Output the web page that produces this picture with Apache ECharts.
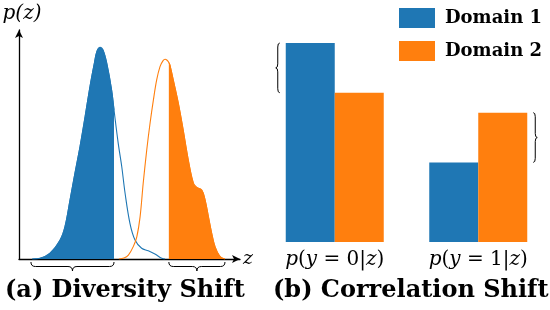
<!DOCTYPE html>
<html>
<head>
<meta charset="utf-8">
<script src="https://cdn.jsdelivr.net/npm/echarts@6/dist/echarts.min.js"></script>
<style>html,body{margin:0;padding:0;background:#fff}#c{width:550px;height:310px}</style>
</head>
<body>
<div id="c"></div>
<script>
// ---- Panel (a): densities p(z) ----
const domain1Z = [0.60, 0.95, 1.40, 1.86, 2.08, 2.31, 2.53, 2.76, 2.99, 3.21, 3.41, 3.53, 3.67, 3.80, 3.97, 4.19, 4.30, 4.49, 4.65, 4.80, 5.02, 5.25, 5.55, 5.85, 6.15, 6.46, 6.61];
const domain1P = [0, 0.003, 0.025, 0.083, 0.141, 0.258, 0.374, 0.490, 0.621, 0.752, 0.855, 0.908, 0.924, 0.913, 0.855, 0.738, 0.650, 0.505, 0.403, 0.287, 0.156, 0.083, 0.047, 0.036, 0.022, 0.003, 0];
const domain1CutZ = 4.30;   // blue shaded for z <= cut

const domain2Z = [4.52, 4.75, 4.95, 5.17, 5.33, 5.48, 5.62, 5.78, 5.93, 6.08, 6.23, 6.38, 6.52, 6.61, 6.70, 6.78, 6.83, 6.98, 7.21, 7.43, 7.66, 7.89, 8.04, 8.27, 8.42, 8.57, 8.72, 8.87, 9.10, 9.32];
const domain2P = [0, 0.004, 0.017, 0.054, 0.097, 0.185, 0.331, 0.476, 0.593, 0.694, 0.782, 0.840, 0.866, 0.872, 0.868, 0.858, 0.847, 0.782, 0.680, 0.563, 0.432, 0.331, 0.313, 0.301, 0.258, 0.185, 0.112, 0.054, 0.010, 0];
const domain2CutZ = 6.78;   // orange shaded for z >= cut

// ---- Panel (b): p(y|z) bars ----
const categories = ['p(y = 0|z)', 'p(y = 1|z)'];
const domain1Bars = [1.0, 0.40];
const domain2Bars = [0.75, 0.65];

const seriesNames = ['Domain 1', 'Domain 2'];
const captions = ['(a) Diversity Shift', '(b) Correlation Shift'];

const BLUE = '#1f77b4', ORANGE = '#ff7f0e';
const BAR_W = 49;

const zip = (xs, ys) => xs.map((x, i) => [x, ys[i]]);
const d1 = zip(domain1Z, domain1P);
const d2 = zip(domain2Z, domain2P);
const d1Fill = d1.filter(p => p[0] <= domain1CutZ);
const d2Fill = d2.filter(p => p[0] >= domain2CutZ);
const braceRanges = [[domain1Z[0] - 0.06, domain1CutZ, 0], [domain2CutZ, domain2Z[domain2Z.length - 1], 0]];
const barBraces = categories.map((c, i) => [i, domain1Bars[i], domain2Bars[i]]);

function hBrace(x1, x2, y0) {
  const h = 9, q = 4.5, m = (x1 + x2) / 2, yl = y0 + h / 2, yt = y0 + h;
  return `M${x1},${y0} Q${x1},${yl} ${x1 + q},${yl} L${m - q},${yl} Q${m},${yl} ${m},${yt} Q${m},${yl} ${m + q},${yl} L${x2 - q},${yl} Q${x2},${yl} ${x2},${y0}`;
}
function vBrace(xe, y1, y2, dir) {
  const w = 4 * dir, q = 4, xm = xe + w / 2, xt = xe + w, ym = (y1 + y2) / 2;
  return `M${xe},${y1} Q${xm},${y1} ${xm},${y1 + q} L${xm},${ym - q} Q${xm},${ym} ${xt},${ym} Q${xm},${ym} ${xm},${ym + q} L${xm},${y2 - q} Q${xm},${y2} ${xe},${y2}`;
}

function mathRich(s) {
  let out = '';
  for (const ch of s) {
    if (/[a-z]/.test(ch)) out += '{i|' + ch + '}';
    else out += '{n|' + ch + '}';
  }
  return out;
}

const serif = 'DejaVu Serif';
const SMOOTH = 0.35;
const chart = echarts.init(document.getElementById('c'), null, {renderer: 'canvas'});
chart.setOption({
  animation: false,
  backgroundColor: '#fff',
  title: [
    {text: captions[0], left: 5, top: 279, padding: 0, textStyle: {fontFamily: serif, fontWeight: 'bold', fontSize: 24, color: '#000'}},
    {text: captions[1], left: 273, top: 279, padding: 0, textStyle: {fontFamily: serif, fontWeight: 'bold', fontSize: 24, color: '#000'}}
  ],
  legend: {
    data: seriesNames, orient: 'vertical', left: 399, top: 8, padding: 0,
    itemWidth: 36, itemHeight: 20, itemGap: 13, icon: 'rect',
    textStyle: {fontFamily: serif, fontWeight: 'bold', fontSize: 18, color: '#000', padding: [0, 0, 0, 5]}
  },
  grid: [
    {left: 19, top: 30, width: 221, height: 229},
    {left: 263, top: 43, width: 289, height: 199}
  ],
  xAxis: [
    {type: 'value', gridIndex: 0, min: 0, max: 10,
     axisLine: {show: true, symbol: ['none', 'arrow'], symbolSize: [6, 8], lineStyle: {color: '#000', width: 1.3}},
     axisTick: {show: false}, axisLabel: {show: false}, splitLine: {show: false},
     name: 'z', nameLocation: 'end', nameGap: 3,
     nameTextStyle: {fontFamily: serif, fontStyle: 'italic', fontSize: 19, color: '#000', verticalAlign: 'middle'}},
    {type: 'category', gridIndex: 1, data: categories,
     axisLine: {show: false}, axisTick: {show: false},
     axisLabel: {margin: 8, interval: 0, formatter: v => mathRich(v),
       rich: {i: {fontFamily: serif, fontStyle: 'italic', fontSize: 20, color: '#000'},
              n: {fontFamily: serif, fontSize: 20, color: '#000'}}}}
  ],
  yAxis: [
    {type: 'value', gridIndex: 0, min: 0, max: 1,
     axisLine: {show: true, symbol: ['none', 'arrow'], symbolSize: [6, 8], lineStyle: {color: '#000', width: 1.3}},
     axisTick: {show: false}, axisLabel: {show: false}, splitLine: {show: false},
     name: 'p(z)', nameLocation: 'end', nameGap: 6,
     nameTextStyle: {fontFamily: serif, fontStyle: 'italic', fontSize: 20, color: '#000', padding: [0, 0, 0, 6]}},
    {type: 'value', gridIndex: 1, min: 0, max: 1, show: false}
  ],
  series: [
    {name: 'Domain 1 shaded', type: 'line', xAxisIndex: 0, yAxisIndex: 0, data: d1Fill,
     smooth: SMOOTH, showSymbol: false, lineStyle: {width: 1, color: BLUE},
     areaStyle: {color: BLUE, opacity: 1}, z: 2},
    {name: 'Domain 2 shaded', type: 'line', xAxisIndex: 0, yAxisIndex: 0, data: d2Fill,
     smooth: SMOOTH, showSymbol: false, lineStyle: {width: 1, color: ORANGE},
     areaStyle: {color: ORANGE, opacity: 1}, z: 2},
    {name: 'Domain 1 density', type: 'line', xAxisIndex: 0, yAxisIndex: 0, data: d1,
     smooth: SMOOTH, showSymbol: false, lineStyle: {width: 1.1, color: BLUE}, z: 3},
    {name: 'Domain 2 density', type: 'line', xAxisIndex: 0, yAxisIndex: 0, data: d2,
     smooth: SMOOTH, showSymbol: false, lineStyle: {width: 1.1, color: ORANGE}, z: 3},
    {name: 'braces a', type: 'custom', xAxisIndex: 0, yAxisIndex: 0, data: braceRanges,
     encode: {x: [0, 1], y: 2}, clip: false,
     renderItem: (params, api) => {
       const a = api.coord([api.value(0), api.value(2)]);
       const b = api.coord([api.value(1), api.value(2)]);
       return {type: 'path', shape: {pathData: hBrace(a[0], b[0], a[1] + 3)},
               style: {stroke: '#000', fill: null, lineWidth: 1}};
     }},
    {name: seriesNames[0], type: 'bar', xAxisIndex: 1, yAxisIndex: 1, data: domain1Bars,
     barWidth: BAR_W, barGap: '0%', itemStyle: {color: BLUE}},
    {name: seriesNames[1], type: 'bar', xAxisIndex: 1, yAxisIndex: 1, data: domain2Bars,
     barWidth: BAR_W, barGap: '0%', itemStyle: {color: ORANGE}},
    {name: 'braces b', type: 'custom', xAxisIndex: 1, yAxisIndex: 1, data: barBraces,
     encode: {x: 0, y: [1, 2]}, clip: false,
     renderItem: (params, api) => {
       const i = api.value(0);
       const p1 = api.coord([i, api.value(1)]);
       const p2 = api.coord([i, api.value(2)]);
       const dir = i === 0 ? -1 : 1;
       const xe = p1[0] + dir * (BAR_W + 6);
       const y1 = Math.min(p1[1], p2[1]), y2 = Math.max(p1[1], p2[1]);
       return {type: 'path', shape: {pathData: vBrace(xe, y1, y2, dir)},
               style: {stroke: '#000', fill: null, lineWidth: 1}};
     }}
  ]
});
</script>
</body>
</html>
